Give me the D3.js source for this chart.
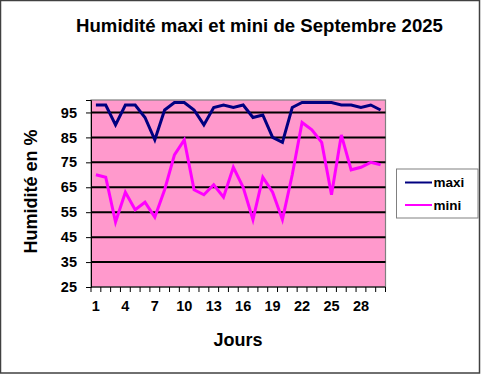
<!DOCTYPE html>
<html>
<head>
<meta charset="utf-8">
<script src="https://cdn.jsdelivr.net/npm/d3@7"></script>
<style>
  body { margin: 0; background: #fff; }
  svg { display: block; font-family: Arial, "Liberation Sans", sans-serif; }
</style>
</head>
<body>
<div id="chart"></div>
<script>
// Data
const days = d3.range(1, 31);
const maxi = [98, 98, 90, 98, 98, 93, 84, 96, 99, 99, 96, 90, 97, 98, 97, 98, 93, 94, 85, 83,
              97, 99, 99, 99, 99, 98, 98, 97, 98, 96];
const mini = [70, 69, 51, 63, 56, 59, 53, 64, 78, 84, 64, 62, 66, 61, 73, 65, 52, 69, 63, 52,
              70, 91, 88, 83, 62, 86, 72, 73, 75, 74];
const yTicks = [25, 35, 45, 55, 65, 75, 85, 95];
const xTickLabels = [1, 4, 7, 10, 13, 16, 19, 22, 25, 28];
const series = [
    { name: "maxi", values: maxi, color: "#000080" },
    { name: "mini", values: mini, color: "#FF00FF" }
];

const W = 481, H = 374;
const plot = { left: 91, right: 385.5, top: 100, bottom: 287 };

const svg = d3.select("#chart").append("svg")
    .attr("width", W)
    .attr("height", H);

// outer frame
svg.append("rect")
    .attr("x", 0.5).attr("y", 0.5)
    .attr("width", W - 2).attr("height", H - 1.5)
    .attr("fill", "#fff")
    .attr("stroke", "#404040")
    .attr("stroke-width", 1.5);

// Scales
const x = d3.scaleBand()
    .domain(days)
    .range([plot.left, plot.right]);

const y = d3.scaleLinear()
    .domain([25, 100])
    .range([plot.bottom, plot.top]);

// Plot background
svg.append("rect")
    .attr("x", plot.left).attr("y", plot.top)
    .attr("width", plot.right - plot.left)
    .attr("height", plot.bottom - plot.top)
    .attr("fill", "#FF99CC")
    .attr("stroke", "#808080")
    .attr("stroke-width", 1.2);

// Gridlines
svg.append("g")
    .selectAll("line")
    .data(yTicks.filter(d => d > 25))
    .enter()
    .append("line")
    .attr("x1", plot.left).attr("x2", plot.right)
    .attr("y1", d => y(d)).attr("y2", d => y(d))
    .attr("stroke", "#000")
    .attr("stroke-width", 2);

// Y axis
const yAxis = svg.append("g")
    .attr("transform", `translate(${plot.left},0)`)
    .call(d3.axisLeft(y).tickValues(yTicks).tickSize(5).tickPadding(9));
yAxis.select(".domain").attr("stroke", "#000");
yAxis.selectAll("text")
    .attr("font-size", 14.5)
    .attr("font-weight", "bold")
    .attr("fill", "#000")
    .attr("font-family", "Arial, 'Liberation Sans', sans-serif");

// X axis: ticks on bin boundaries, labels at category centers
const xAxis = svg.append("g")
    .attr("transform", `translate(0,${plot.bottom})`);
xAxis.append("line")
    .attr("x1", plot.left).attr("x2", plot.right)
    .attr("stroke", "#000");
xAxis.selectAll(".tick")
    .data(d3.range(0, days.length + 1))
    .enter()
    .append("line")
    .attr("x1", i => plot.left + i * x.bandwidth())
    .attr("x2", i => plot.left + i * x.bandwidth())
    .attr("y1", 0).attr("y2", 5)
    .attr("stroke", "#000");
xAxis.selectAll("text")
    .data(xTickLabels)
    .enter()
    .append("text")
    .attr("x", d => x(d) + x.bandwidth() / 2)
    .attr("y", 24)
    .attr("text-anchor", "middle")
    .attr("font-size", 14.5)
    .attr("font-weight", "bold")
    .text(d => d);

// Lines
const line = d3.line()
    .x((d, i) => x(days[i]) + x.bandwidth() / 2)
    .y(d => y(d));

svg.append("g")
    .selectAll("path")
    .data(series)
    .enter()
    .append("path")
    .attr("d", d => line(d.values))
    .attr("fill", "none")
    .attr("stroke", d => d.color)
    .attr("stroke-width", 3)
    .attr("stroke-linejoin", "miter");

// Title
svg.append("text")
    .attr("x", 259.5)
    .attr("y", 31.5)
    .attr("text-anchor", "middle")
    .attr("font-size", 18.6)
    .attr("font-weight", "bold")
    .text("Humidité maxi et mini de Septembre 2025");

// Axis labels
svg.append("text")
    .attr("x", 238)
    .attr("y", 346)
    .attr("text-anchor", "middle")
    .attr("font-size", 18)
    .attr("font-weight", "bold")
    .text("Jours");

svg.append("text")
    .attr("transform", "translate(37,191.5) rotate(-90)")
    .attr("text-anchor", "middle")
    .attr("font-size", 18)
    .attr("font-weight", "bold")
    .text("Humidité en %");

// Legend
const legend = svg.append("g");
legend.append("rect")
    .attr("x", 396.5).attr("y", 169)
    .attr("width", 81.5).attr("height", 49)
    .attr("fill", "#fff")
    .attr("stroke", "#808080")
    .attr("stroke-width", 1);
const item = legend.selectAll(".item")
    .data(series)
    .enter()
    .append("g")
    .attr("transform", (d, i) => `translate(0,${182.5 + i * 22.5})`);
item.append("line")
    .attr("x1", 405).attr("x2", 432)
    .attr("stroke", d => d.color)
    .attr("stroke-width", 2);
item.append("text")
    .attr("x", 433.5)
    .attr("y", 4.5)
    .attr("font-size", 13.5)
    .attr("font-weight", "bold")
    .text(d => d.name);
</script>
</body>
</html>
